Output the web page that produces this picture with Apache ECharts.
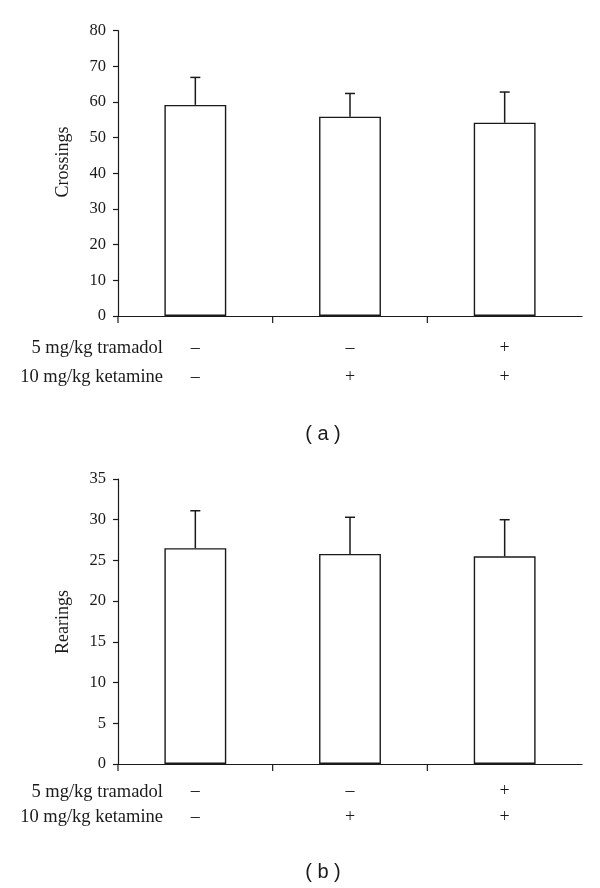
<!DOCTYPE html>
<html>
<head>
<meta charset="utf-8">
<script src="https://cdn.jsdelivr.net/npm/echarts@6/dist/echarts.min.js"></script>
<style>html,body{margin:0;padding:0;background:#fff}#c{width:600px;height:888px}</style>
</head>
<body>
<div id="c"></div>
<script>
// ---- data ----
const tramadol = ['–', '–', '+'];
const ketamine = ['–', '+', '+'];
const rowLabels = ['5 mg/kg tramadol', '10 mg/kg ketamine'];
const crossingsMean = [59.2, 55.9, 54.2];
const crossingsUpper = [66.9, 62.4, 62.8];
const rearingsMean = [26.5, 25.8, 25.5];
const rearingsUpper = [31.1, 30.3, 30.0];
const crossingsAxis = { min: 0, max: 80, interval: 10, name: 'Crossings' };
const rearingsAxis = { min: 0, max: 35, interval: 5, name: 'Rearings' };
const captions = ['( a )', '( b )'];

const categories = tramadol.map((t, i) => t + '\n' + ketamine[i]);
const serif = 'Liberation Serif';
const ink = '#1a1a1a';

const chart = echarts.init(document.getElementById('c'), null, { renderer: 'canvas' });

function xAxisFor(gridIndex, lineHeight, margin) {
  return {
    type: 'category', gridIndex, data: categories, boundaryGap: true,
    axisLine: { lineStyle: { color: ink, width: 1.2 } },
    axisTick: { show: false },
    axisLabel: { color: ink, fontFamily: serif, fontSize: 18, lineHeight, margin }
  };
}
function yAxisFor(gridIndex, ax) {
  return {
    type: 'value', gridIndex, min: ax.min, max: ax.max, interval: ax.interval,
    splitLine: { show: false },
    axisLine: { show: true, lineStyle: { color: ink, width: 1.2 } },
    axisTick: { show: true, length: 5, lineStyle: { color: ink, width: 1.2 } },
    axisLabel: { color: ink, fontFamily: serif, fontSize: 16.5, margin: 12 }
  };
}
// category boundary ticks (left edge of each band, no tick at the far right end)
function tickSeries(idx) {
  return {
    type: 'custom', xAxisIndex: idx, yAxisIndex: idx, z: 3, clip: false, silent: true,
    data: categories.map((_, i) => [i, 0]),
    renderItem: function (params, api) {
      const c = api.coord([api.value(0), api.value(1)]);
      const bw = api.size([1, 0])[0];
      const x = c[0] - bw / 2;
      return { type: 'line', shape: { x1: x, y1: c[1], x2: x, y2: c[1] + 7 }, style: { stroke: ink, lineWidth: 1.2 } };
    }
  };
}
function errSeries(idx, mean, upper) {
  return {
    type: 'custom', xAxisIndex: idx, yAxisIndex: idx, z: 1,
    data: mean.map((m, i) => [i, m, upper[i]]),
    renderItem: function (params, api) {
      const lo = api.coord([api.value(0), api.value(1)]);
      const hi = api.coord([api.value(0), api.value(2)]);
      const hw = 5;
      return {
        type: 'group',
        children: [
          { type: 'line', shape: { x1: lo[0], y1: lo[1], x2: hi[0], y2: hi[1] }, style: { stroke: ink, lineWidth: 1.5 } },
          { type: 'line', shape: { x1: hi[0] - hw, y1: hi[1], x2: hi[0] + hw, y2: hi[1] }, style: { stroke: ink, lineWidth: 1.5 } }
        ]
      };
    }
  };
}
function barSeries(idx, mean) {
  return {
    type: 'bar', xAxisIndex: idx, yAxisIndex: idx, data: mean, barWidth: '40%', z: 2,
    itemStyle: { color: '#fff', borderColor: ink, borderWidth: 1.4 }
  };
}

const grids = [
  { left: 118, width: 464, top: 30.7, height: 285.3 },
  { left: 118, width: 464, top: 479, height: 285 }
];

const graphics = [];
// y-axis names
graphics.push({ type: 'text', x: 63, y: 162, rotation: Math.PI / 2,
  style: { text: crossingsAxis.name, font: '18px "' + serif + '"', fill: ink, textAlign: 'center', textVerticalAlign: 'middle' } });
graphics.push({ type: 'text', x: 63, y: 622, rotation: Math.PI / 2,
  style: { text: rearingsAxis.name, font: '18px "' + serif + '"', fill: ink, textAlign: 'center', textVerticalAlign: 'middle' } });
// row labels
const rowY = [[348, 377], [791.7, 817.3]];
rowY.forEach(ys => ys.forEach((y, k) => graphics.push({ type: 'text', x: 163, y,
  style: { text: rowLabels[k], font: '18.5px "' + serif + '"', fill: ink, textAlign: 'right', textVerticalAlign: 'middle' } })));
// captions
[[434, captions[0]], [872, captions[1]]].forEach(([y, t]) => graphics.push({ type: 'text', x: 323, y,
  style: { text: t, font: '20px "Liberation Sans"', fill: ink, textAlign: 'center', textVerticalAlign: 'middle' } }));

chart.setOption({
  animation: false,
  backgroundColor: '#fff',
  grid: grids,
  xAxis: [xAxisFor(0, 29, 17.5), xAxisFor(1, 26, 14.7)],
  yAxis: [yAxisFor(0, crossingsAxis), yAxisFor(1, rearingsAxis)],
  series: [
    errSeries(0, crossingsMean, crossingsUpper),
    barSeries(0, crossingsMean),
    tickSeries(0),
    errSeries(1, rearingsMean, rearingsUpper),
    barSeries(1, rearingsMean),
    tickSeries(1)
  ],
  graphic: graphics
});
</script>
</body>
</html>
